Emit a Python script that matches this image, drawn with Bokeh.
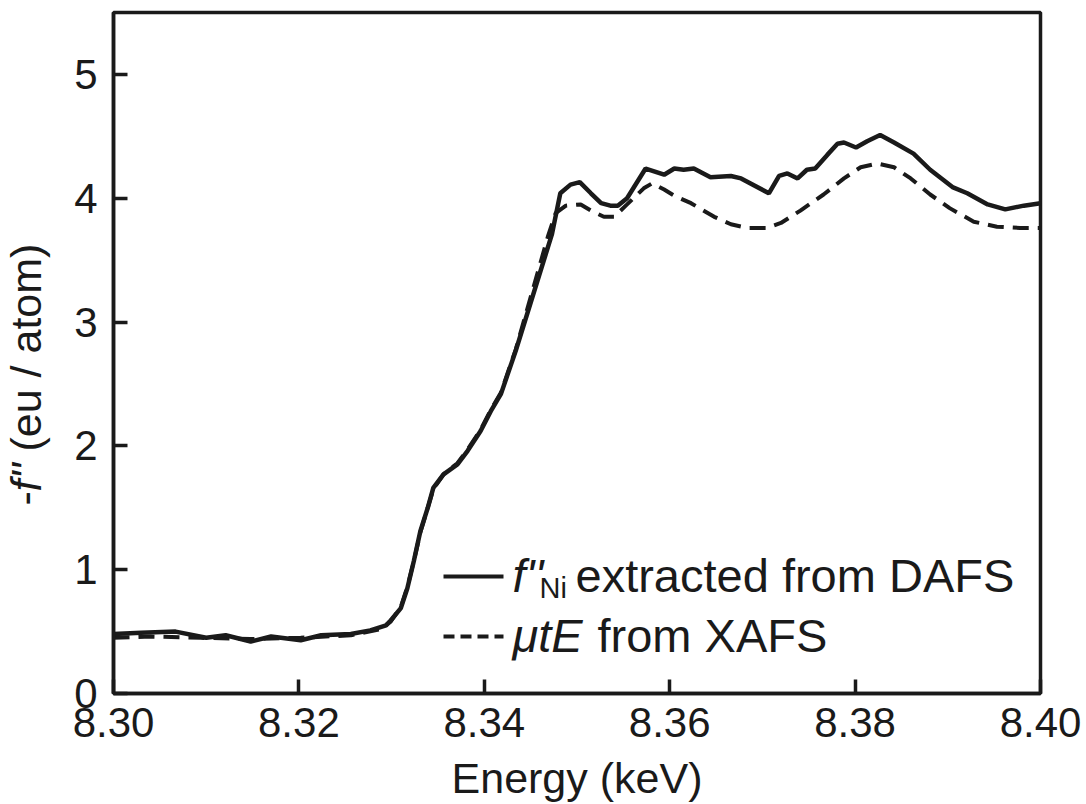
import math
from bokeh.plotting import figure
from bokeh.layouts import row
from bokeh.models import Range1d, FixedTicker, NumeralTickFormatter, Label, Arrow
from bokeh.embed import file_html
from bokeh.resources import INLINE

# ---- data ----
energy_dafs = [8.3000, 8.3030, 8.3067, 8.3100, 8.3121, 8.3148, 8.3170, 8.3202, 8.3224, 8.3256,
               8.3277, 8.3294, 8.3299, 8.3310, 8.3317, 8.3324, 8.3331, 8.3339, 8.3345, 8.3356,
               8.3371, 8.3382, 8.3396, 8.3407, 8.3418, 8.3434, 8.3473, 8.3482, 8.3493, 8.3503,
               8.3515, 8.3526, 8.3536, 8.3544, 8.3554, 8.3574, 8.3594, 8.3605, 8.3615, 8.3626,
               8.3644, 8.3666, 8.3677, 8.3707, 8.3718, 8.3727, 8.3738, 8.3748, 8.3757, 8.3770,
               8.3781, 8.3788, 8.3801, 8.3813, 8.3827, 8.3842, 8.3863, 8.3881, 8.3905, 8.3921,
               8.3943, 8.3962, 8.3982, 8.4000]
f2_dafs = [0.48, 0.49, 0.50, 0.45, 0.47, 0.42, 0.46, 0.43, 0.47, 0.48,
           0.51, 0.55, 0.59, 0.69, 0.85, 1.07, 1.31, 1.50, 1.66, 1.77,
           1.85, 1.96, 2.12, 2.28, 2.42, 2.77, 3.71, 4.04, 4.11, 4.13,
           4.04, 3.96, 3.94, 3.94, 4.00, 4.24, 4.19, 4.24, 4.23, 4.24,
           4.17, 4.18, 4.16, 4.04, 4.18, 4.20, 4.16, 4.23, 4.24, 4.35,
           4.44, 4.45, 4.41, 4.46, 4.51, 4.45, 4.36, 4.23, 4.09, 4.04,
           3.95, 3.91, 3.94, 3.96]

energy_xafs = [8.3000, 8.3040, 8.3094, 8.3148, 8.3202, 8.3256, 8.3288, 8.3299, 8.3310, 8.3317,
               8.3324, 8.3331, 8.3339, 8.3345, 8.3356, 8.3371, 8.3382, 8.3396, 8.3407, 8.3418,
               8.3434, 8.3469, 8.3477, 8.3488, 8.3504, 8.3515, 8.3529, 8.3540, 8.3554, 8.3572,
               8.3581, 8.3594, 8.3605, 8.3623, 8.3648, 8.3666, 8.3684, 8.3705, 8.3720, 8.3741,
               8.3766, 8.3788, 8.3806, 8.3824, 8.3842, 8.3860, 8.3881, 8.3902, 8.3928, 8.3953,
               8.3978, 8.4000]
mute_xafs = [0.45, 0.46, 0.45, 0.44, 0.45, 0.47, 0.52, 0.58, 0.70, 0.86,
             1.07, 1.30, 1.50, 1.65, 1.77, 1.86, 1.97, 2.13, 2.29, 2.43,
             2.78, 3.70, 3.88, 3.94, 3.95, 3.90, 3.85, 3.85, 3.95, 4.08,
             4.12, 4.07, 4.02, 3.96, 3.85, 3.79, 3.76, 3.76, 3.80, 3.90,
             4.03, 4.16, 4.25, 4.28, 4.25, 4.16, 4.03, 3.92, 3.81, 3.77,
             3.76, 3.76]

x_ticks = [8.30, 8.32, 8.34, 8.36, 8.38, 8.40]
y_ticks = [0, 1, 2, 3, 4, 5]

FONT = "Liberation Sans"
INK = "#1a1a1a"

# ---- main plot ----
p = figure(frame_width=927, frame_height=681,
           x_range=Range1d(8.30, 8.40), y_range=Range1d(0, 5.5),
           output_backend="svg", toolbar_location=None,
           min_border_left=53, min_border_right=46, min_border_top=12, min_border_bottom=111,
           background_fill_color="white", border_fill_color="white")

p.grid.visible = False
p.outline_line_color = INK
p.outline_line_width = 3.5
p.outline_line_alpha = 1.0

for ax in (p.xaxis[0], p.yaxis[0]):
    ax.axis_line_width = 3.5
    ax.axis_line_color = INK
    ax.major_tick_in = 14
    ax.major_tick_out = 0
    ax.major_tick_line_width = 3.5
    ax.major_tick_line_color = INK
    ax.minor_tick_in = 0
    ax.minor_tick_out = 0
    ax.major_label_text_font = FONT
    ax.major_label_text_font_size = "42px"
    ax.major_label_text_color = INK

p.xaxis.ticker = FixedTicker(ticks=x_ticks)
p.xaxis.formatter = NumeralTickFormatter(format="0.00")
p.xaxis.major_label_standoff = 14
p.xaxis.axis_label = "Energy (keV)"
p.xaxis.axis_label_text_font = FONT
p.xaxis.axis_label_text_font_size = "43px"
p.xaxis.axis_label_text_font_style = "normal"
p.xaxis.axis_label_text_color = INK
p.xaxis.axis_label_standoff = 14

p.yaxis.ticker = FixedTicker(ticks=y_ticks)
p.yaxis.formatter = NumeralTickFormatter(format="0")
p.yaxis.major_label_standoff = 16

# curves
p.line(energy_xafs, mute_xafs, line_color=INK, line_width=4, line_dash="16 9")
p.line(energy_dafs, f2_dafs, line_color=INK, line_width=4.5)

# custom legend (screen units relative to the frame)
p.add_layout(Arrow(x_start=330, y_start=117, x_end=390, y_end=117,
                   start_units="screen", end_units="screen", end=None,
                   line_width=4, line_color=INK))
p.add_layout(Arrow(x_start=330, y_start=57, x_end=390, y_end=57,
                   start_units="screen", end_units="screen", end=None,
                   line_width=4, line_color=INK, line_dash="11 6"))

def lab(fig, x, y, txt, size="47px", style="normal", angle=0.0):
    fig.add_layout(Label(x=x, y=y, x_units="screen", y_units="screen", text=txt, angle=angle,
                         text_font=FONT, text_font_size=size, text_font_style=style,
                         text_color=INK, text_align="left", text_baseline="alphabetic"))

lab(p, 399, 118, "f''", style="italic")
lab(p, 426, 106, "Ni", size="29px")
lab(p, 462, 118, "extracted from DAFS")
lab(p, 399, 58, "\u03bctE", style="italic")
lab(p, 484, 58, "from XAFS")

# ---- narrow strip holding the y-axis title (mixed italic) ----
q = figure(width=60, height=804, x_range=Range1d(0, 1), y_range=Range1d(0, 1),
           output_backend="svg", toolbar_location=None,
           x_axis_location=None, y_axis_location=None,
           min_border_left=0, min_border_right=0, min_border_top=0, min_border_bottom=0,
           background_fill_color="white", border_fill_color="white")
q.grid.visible = False
q.outline_line_color = None

ang = math.pi / 2
for txt, y0, style in [("-", 188, "normal"), ("f''", 202, "italic"), ("(eu / atom)", 242, "normal")]:
    lab(q, 25, y0, txt, size="43px", style=style, angle=ang)

layout = row(q, p, spacing=0)
open("out.html", "w").write(file_html(layout, INLINE))
